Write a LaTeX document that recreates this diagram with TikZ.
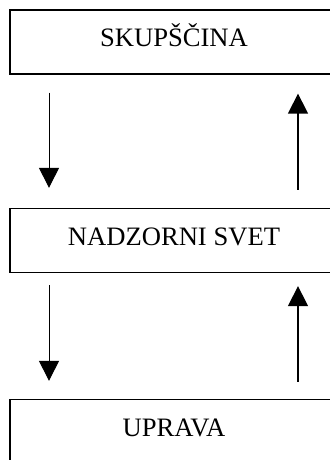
\documentclass[tikz,border=0pt]{standalone}
\usepackage{fontspec}
\setmainfont{Liberation Serif}
\usepackage{tikz}
\usetikzlibrary{arrows.meta}
\tikzstyle{box}=[rectangle,draw,line width=1.3pt,minimum width=328pt,minimum height=64pt,inner sep=0pt,text height=18pt,text depth=9pt,font=\fontsize{26.6}{30}\selectfont]
\tikzstyle{down} = [draw,line width=1pt,-{Triangle[width=20pt,length=20pt]}]
\tikzstyle{up} = [draw,line width=1.4pt,-{Triangle[width=20pt,length=20pt]}]

\begin{document}
\begin{tikzpicture}[x=1pt,y=-1pt]

  \def\cx{174};
  \useasboundingbox (0,0) rectangle (329,460);

   \foreach \y/\name/\label in {42/skup/SKUPŠČINA, 240.5/nadz/NADZORNI SVET, 431.5/upr/UPRAVA}
          \node[box] (\name) at (\cx, \y) {\label};

  \foreach \source/ \dest /\a/\b in {skup/nadz/18/20, nadz/upr/12/18}
         \path[down,shorten <=\a pt,shorten >=\b pt] ([xshift=-125pt]\source.south) -- ([xshift=-125pt]\dest.north);

  \foreach \source/ \dest /\a/\b in {nadz/skup/18/19, upr/nadz/17/13}
         \path[up,shorten <=\a pt,shorten >=\b pt] ([xshift=124pt]\source.north) -- ([xshift=124pt]\dest.south);

\end{tikzpicture}
\end{document}
